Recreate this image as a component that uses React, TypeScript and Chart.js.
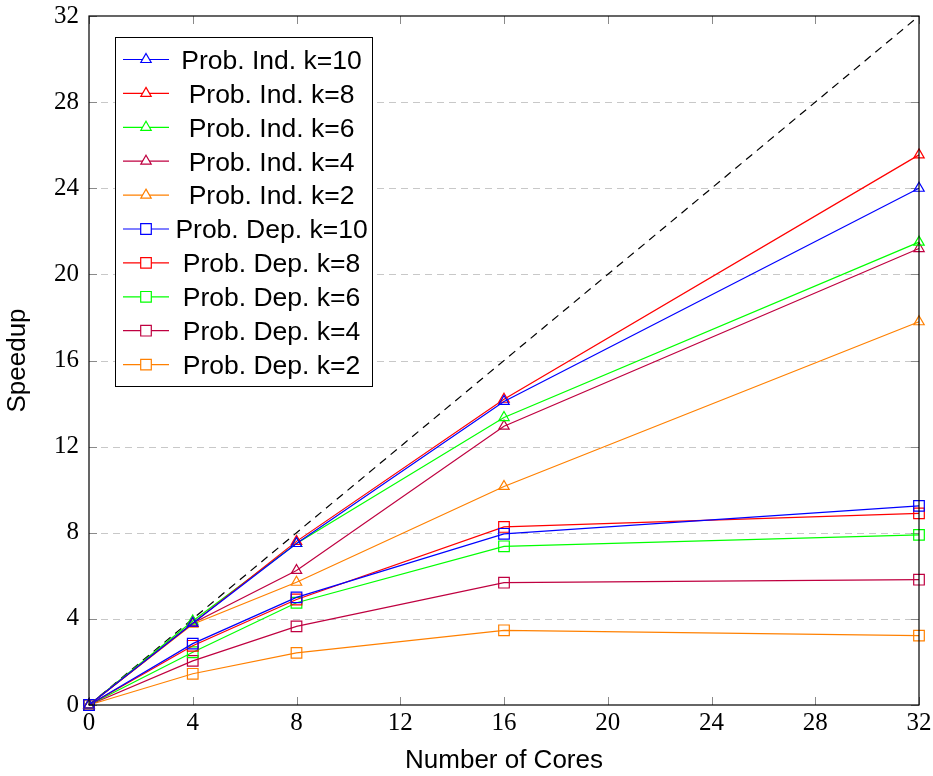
import React, { useEffect, useRef } from 'react';
import { Chart, registerables } from 'chart.js';

Chart.register(...registerables);

const cores = [0, 4, 8, 16, 32];
const xTickValues = [0, 4, 8, 12, 16, 20, 24, 28, 32];
const yTickValues = [0, 4, 8, 12, 16, 20, 24, 28, 32];

const indK10 = [0, 3.8, 7.5, 14.1, 24.0];
const indK8 = [0, 3.8, 7.6, 14.2, 25.55];
const indK6 = [0, 3.9, 7.5, 13.35, 21.5];
const indK4 = [0, 3.8, 6.25, 12.95, 21.2];
const indK2 = [0, 3.75, 5.7, 10.15, 17.8];
const depK10 = [0, 2.85, 5.0, 7.95, 9.25];
const depK8 = [0, 2.75, 4.9, 8.27, 8.9];
const depK6 = [0, 2.45, 4.75, 7.37, 7.9];
const depK4 = [0, 2.05, 3.65, 5.68, 5.82];
const depK2 = [0, 1.45, 2.42, 3.47, 3.22];

const idealX = [0, 32];
const idealY = [0, 32];

const seriesLabels = [
  'Prob. Ind. k=10',
  'Prob. Ind. k=8',
  'Prob. Ind. k=6',
  'Prob. Ind. k=4',
  'Prob. Ind. k=2',
  'Prob. Dep. k=10',
  'Prob. Dep. k=8',
  'Prob. Dep. k=6',
  'Prob. Dep. k=4',
  'Prob. Dep. k=2',
];
const seriesValues = [indK10, indK8, indK6, indK4, indK2, depK10, depK8, depK6, depK4, depK2];
const seriesColors = ['#0000ff', '#ff0000', '#00ff00', '#bf0040', '#ff8000', '#0000ff', '#ff0000', '#00ff00', '#bf0040', '#ff8000'];
const seriesMarkers = ['triangle', 'triangle', 'triangle', 'triangle', 'triangle', 'rect', 'rect', 'rect', 'rect', 'rect'];

const SANS = '"Liberation Sans", Arial, Helvetica, sans-serif';
const SERIF = '"Liberation Serif", "DejaVu Serif", serif';

function drawMarker(ctx: CanvasRenderingContext2D, style: string, x: number, y: number, color: string) {
  ctx.save();
  ctx.strokeStyle = color;
  ctx.lineWidth = 1.2;
  ctx.fillStyle = '#ffffff';
  ctx.beginPath();
  if (style === 'triangle') {
    const r = 6;
    const s = Math.sin(Math.PI * 2 / 3) * r;
    ctx.moveTo(x, y - r);
    ctx.lineTo(x + s, y + r / 2);
    ctx.lineTo(x - s, y + r / 2);
    ctx.closePath();
  } else {
    const h = 5.3;
    ctx.rect(x - h, y - h, 2 * h, 2 * h);
  }
  ctx.fill();
  ctx.stroke();
  ctx.restore();
}

const framePlugin = {
  id: 'framePlugin',
  beforeDatasetsDraw(chart: any) {
    const { ctx, chartArea } = chart;
    const xs = chart.scales.x;
    const ys = chart.scales.y;
    ctx.save();
    ctx.strokeStyle = '#c8c8c8';
    ctx.lineWidth = 1;
    ctx.setLineDash([7, 5]);
    yTickValues.forEach((v) => {
      if (v === yTickValues[0] || v === yTickValues[yTickValues.length - 1]) return;
      const py = Math.round(ys.getPixelForValue(v)) + 0.5;
      ctx.beginPath();
      ctx.moveTo(chartArea.left, py);
      ctx.lineTo(chartArea.right, py);
      ctx.stroke();
    });
    ctx.setLineDash([]);
    ctx.strokeStyle = '#8a8a8a';
    const tl = 8;
    xTickValues.forEach((v) => {
      const px = Math.round(xs.getPixelForValue(v)) + 0.5;
      ctx.beginPath();
      ctx.moveTo(px, chartArea.bottom);
      ctx.lineTo(px, chartArea.bottom - tl);
      ctx.moveTo(px, chartArea.top);
      ctx.lineTo(px, chartArea.top + tl);
      ctx.stroke();
    });
    yTickValues.forEach((v) => {
      const py = Math.round(ys.getPixelForValue(v)) + 0.5;
      ctx.beginPath();
      ctx.moveTo(chartArea.left, py);
      ctx.lineTo(chartArea.left + tl, py);
      ctx.moveTo(chartArea.right, py);
      ctx.lineTo(chartArea.right - tl, py);
      ctx.stroke();
    });
    ctx.restore();
  },
  afterDatasetsDraw(chart: any) {
    const { ctx, chartArea } = chart;
    ctx.save();
    ctx.strokeStyle = '#000000';
    ctx.lineWidth = 1.2;
    ctx.strokeRect(chartArea.left, chartArea.top, chartArea.right - chartArea.left, chartArea.bottom - chartArea.top);
    ctx.restore();
  },
  afterDraw(chart: any) {
    const { ctx, chartArea } = chart;
    const left = chartArea.left + 26;
    const top = chartArea.top + 21;
    const width = 257;
    const height = 349;
    ctx.save();
    ctx.fillStyle = '#ffffff';
    ctx.fillRect(left, top, width, height);
    ctx.strokeStyle = '#000000';
    ctx.lineWidth = 1;
    ctx.strokeRect(left + 0.5, top + 0.5, width, height);
    const rowH = 33.9;
    const fontSize = 26.5;
    ctx.font = `${fontSize}px ${SANS}`;
    ctx.textAlign = 'center';
    ctx.textBaseline = 'alphabetic';
    seriesLabels.forEach((label, i) => {
      const cy = top + 22.5 + i * rowH;
      const color = seriesColors[i];
      ctx.strokeStyle = color;
      ctx.lineWidth = 1.2;
      ctx.beginPath();
      ctx.moveTo(left + 8, cy);
      ctx.lineTo(left + 54, cy);
      ctx.stroke();
      drawMarker(ctx, seriesMarkers[i], left + 31, cy, color);
      ctx.fillStyle = '#000000';
      ctx.fillText(label, left + 156.5, cy + 26 * 0.716 / 2);
    });
    ctx.restore();
  },
};

export default function App() {
  const canvasRef = useRef<HTMLCanvasElement | null>(null);

  useEffect(() => {
    const canvas = canvasRef.current;
    if (!canvas) return;

    const datasets: any[] = seriesLabels.map((label, i) => ({
      label,
      data: cores.map((c, j) => ({ x: c, y: seriesValues[i][j] })),
      borderColor: seriesColors[i],
      backgroundColor: seriesColors[i],
      borderWidth: 1.2,
      pointStyle: seriesMarkers[i],
      pointRadius: seriesMarkers[i] === 'triangle' ? 6 : 7.5,
      pointBorderWidth: 1.2,
      pointBorderColor: seriesColors[i],
      pointBackgroundColor: 'rgba(0,0,0,0)',
      fill: false,
      tension: 0,
      clip: false,
    }));
    datasets.push({
      label: 'ideal',
      data: idealX.map((x, j) => ({ x, y: idealY[j] })),
      borderColor: '#000000',
      borderWidth: 1.2,
      borderDash: [8, 6],
      pointRadius: 0,
      fill: false,
      tension: 0,
    });

    const chart = new Chart(canvas, {
      type: 'line',
      data: { datasets },
      plugins: [framePlugin],
      options: {
        responsive: false,
        animation: false,
        layout: { padding: { top: 16, right: 14, left: 0, bottom: 0 } },
        plugins: {
          legend: { display: false },
          tooltip: { enabled: false },
        },
        scales: {
          x: {
            type: 'linear',
            min: 0,
            max: 32,
            afterBuildTicks: (scale: any) => {
              scale.ticks = xTickValues.map((v) => ({ value: v }));
            },
            afterFit: (scale: any) => {
              scale.height = 71;
              scale.paddingLeft = 0;
              scale.paddingRight = 0;
            },
            grid: { display: false, drawTicks: false },
            border: { display: false },
            ticks: {
              padding: 3,
              color: '#000000',
              font: { family: SERIF, size: 25 },
              maxRotation: 0,
              autoSkip: false,
            },
            title: {
              display: true,
              text: 'Number of Cores',
              color: '#000000',
              font: { family: SANS, size: 26 },
              padding: { top: 0, bottom: 0 },
            },
          },
          y: {
            type: 'linear',
            min: 0,
            max: 32,
            afterBuildTicks: (scale: any) => {
              scale.ticks = yTickValues.map((v) => ({ value: v }));
            },
            afterFit: (scale: any) => {
              scale.width = 89;
              scale.paddingTop = 0;
              scale.paddingBottom = 0;
            },
            grid: { display: false, drawTicks: false },
            border: { display: false },
            ticks: {
              padding: 10,
              color: '#000000',
              font: { family: SERIF, size: 25 },
              autoSkip: false,
            },
            title: {
              display: true,
              text: 'Speedup',
              color: '#000000',
              font: { family: SANS, size: 26 },
              padding: { top: 2, bottom: 0 },
            },
          },
        },
      },
    });

    return () => {
      chart.destroy();
    };
  }, []);

  return (
    <div style={{ position: 'absolute', left: 0, top: 0, width: 933, height: 776, background: '#ffffff' }}>
      <canvas ref={canvasRef} width={933} height={776} style={{ display: 'block' }} />
    </div>
  );
}
